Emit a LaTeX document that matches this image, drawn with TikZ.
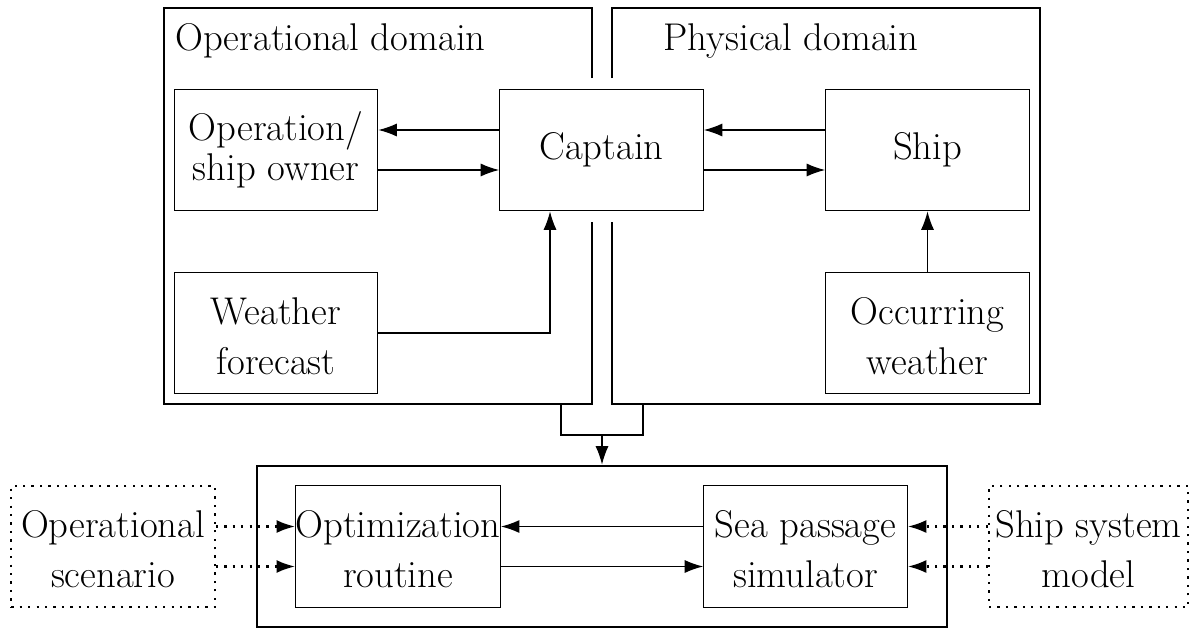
\documentclass[tikz,border=0pt]{standalone}
\usetikzlibrary{arrows.meta}
\newcommand{\topst}{\rule{0pt}{0.66cm}}
\begin{document}
\begin{tikzpicture}[x=0.02cm,y=-0.02cm,
  every node/.style={font=\fontsize{22}{28.45}\selectfont},
  blk/.style={draw,line width=0.7pt,minimum width=4.07cm,minimum height=2.43cm,align=center,inner sep=0pt},
  dotblk/.style={draw,line width=1.3pt,dash pattern=on 1.3pt off 3.5pt,minimum width=4.07cm,minimum height=2.43cm,align=center,inner sep=0pt},
  frame/.style={line width=1.6pt},
  arr/.style={line width=0.7pt,-{Latex[length=10.5pt,width=7.4pt]}},
  darr/.style={line width=1.3pt,dash pattern=on 1.3pt off 3.5pt,-{Latex[length=10.5pt,width=7.4pt]}}]
\useasboundingbox (0,0) rectangle (1198,629);
% domain frames
\coordinate (opTL) at (164,8);
\coordinate (opBR) at (592,404);
\coordinate (opGapT) at (592,78);
\coordinate (opGapB) at (592,222);
\coordinate (phTR) at (1040,8);
\coordinate (phBL) at (612,404);
\coordinate (phGapT) at (612,78);
\coordinate (phGapB) at (612,222);
\draw[frame] (opGapT) -- (opGapT |- opTL) -- (opTL) -- (opTL |- opBR) -- (opBR) -- (opGapB);
\draw[frame] (phGapT) -- (phGapT |- phTR) -- (phTR) -- (phTR |- phBL) -- (phBL) -- (phGapB);
\node[anchor=base west,inner sep=0pt] (optitle) at (175,50) {Operational domain};
\node[anchor=base,inner sep=0pt] (phtitle) at (791,50) {Physical domain};
% nodes
\node[blk] (owner) at (276,150) {Operation/\\[-0.2cm]ship owner};
\node[blk] (captain) at (601.5,150) {Captain};
\node[blk] (ship) at (927.5,150) {Ship};
\node[blk] (forecast) at (276,333) {\topst Weather\\forecast};
\node[blk] (occur) at (927.5,333) {\topst Occurring\\weather};
% arrows top
\draw[arr] ([yshift=0.4cm]captain.west) -- ([yshift=0.4cm]owner.east);
\draw[arr] ([yshift=-0.4cm]owner.east) -- ([yshift=-0.4cm]captain.west);
\draw[arr] ([yshift=0.4cm]ship.west) -- ([yshift=0.4cm]captain.east);
\draw[arr] ([yshift=-0.4cm]captain.east) -- ([yshift=-0.4cm]ship.west);
\draw[arr] (forecast.east) -| ([xshift=-1.03cm]captain.south);
\draw[arr] (occur.north) -- (ship.south);
% bottom
\node[draw,frame,minimum width=13.8cm,minimum height=3.22cm,inner sep=0pt] (sim box) at (602,546.5) {};
\node[blk] (opt) at (398,546.5) {\topst Optimization\\routine};
\node[blk] (sim) at (805.5,546.5) {\topst Sea passage\\simulator};
\node[dotblk] (scen) at (113,546.5) {\topst Operational\\scenario};
\node[dotblk,minimum width=3.98cm] (model) at (1088.5,546.5) {\topst Ship system\\model};
\draw[arr] ([yshift=0.4cm]sim.west) -- ([yshift=0.4cm]opt.east);
\draw[arr] ([yshift=-0.4cm]opt.east) -- ([yshift=-0.4cm]sim.west);
\draw[darr] ([yshift=0.4cm]scen.east) -- ([yshift=0.4cm]opt.west);
\draw[darr] ([yshift=-0.4cm]scen.east) -- ([yshift=-0.4cm]opt.west);
\draw[darr] ([yshift=0.4cm]model.west) -- ([yshift=0.4cm]sim.west -| sim.east);
\draw[darr] ([yshift=-0.4cm]model.west) -- ([yshift=-0.4cm]sim.west -| sim.east);
% junction
\coordinate (jl) at (561,404);
\coordinate (jr) at (643,404);
\coordinate (jm) at (602,435);
\draw[line width=0.7pt] (jl) -- (jl |- jm) -- (jr |- jm) -- (jr);
\draw[arr] (jm) -- (sim box.north);
\end{tikzpicture}
\end{document}
